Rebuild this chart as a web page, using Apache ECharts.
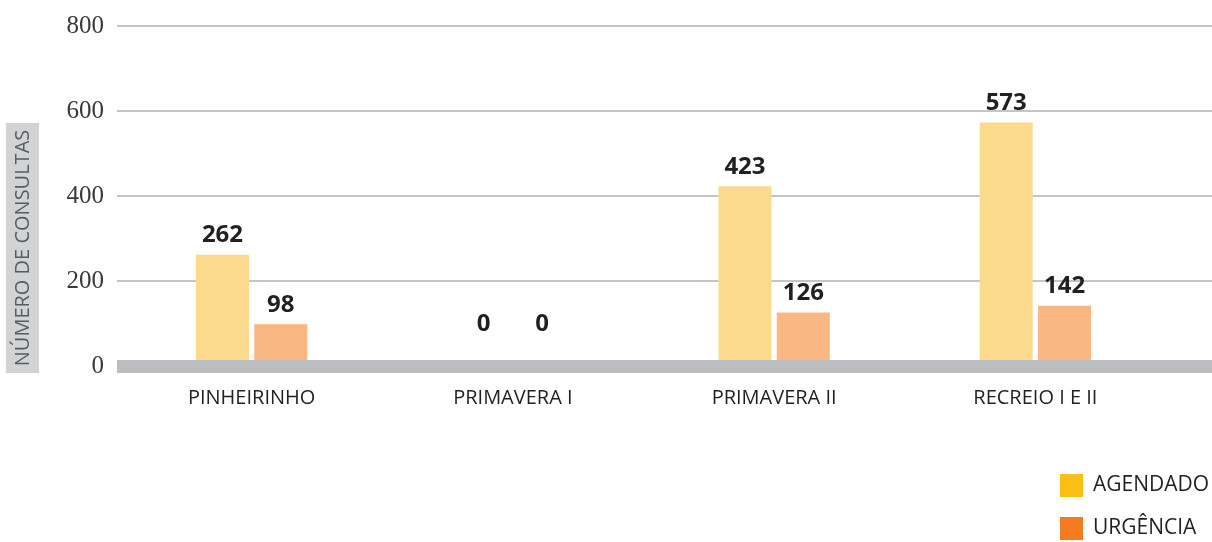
<!DOCTYPE html>
<html>
<head>
<meta charset="utf-8">
<script src="https://cdn.jsdelivr.net/npm/echarts@6/dist/echarts.min.js"></script>
<style>
  html, body { margin: 0; padding: 0; background: #fff; }
  #chart { width: 1212px; height: 542px; }
</style>
</head>
<body>
<div id="chart"></div>
<script>
// data
var categories = ['PINHEIRINHO', 'PRIMAVERA I', 'PRIMAVERA II', 'RECREIO I E II'];
var agendado = [262, 0, 423, 573];
var urgencia = [98, 0, 126, 142];
var seriesNames = ['AGENDADO', 'URGÊNCIA'];
var yTicks = [0, 200, 400, 600, 800];

var barColors = ['#FBDA8E', '#F9B784'];
var legendColors = ['#FBBE15', '#F47B20'];

function withLabels(values) {
    // zero values get their label lifted off the baseline like the original
    return values.map(function (v) {
        return v === 0 ? { value: v, label: { distance: 30 } } : v;
    });
}

var myChart = echarts.init(document.getElementById('chart'));

var gridTop = 26, gridBottom = 176;

myChart.setOption({
    animation: false,
    grid: [
        { left: 117, right: 0, top: gridTop, bottom: gridBottom },
        { left: 121, right: 46, top: gridTop, bottom: gridBottom }
    ],
    xAxis: [
        {
            gridIndex: 0, type: 'value', min: 0, max: 1, z: 3,
            axisLine: { show: true, lineStyle: { color: '#BCBDC0', width: 13, cap: 'butt' } },
            axisTick: { show: false }, axisLabel: { show: false }, splitLine: { show: false }
        },
        {
            gridIndex: 1, type: 'category', data: categories,
            axisLine: { show: false }, axisTick: { show: false },
            axisLabel: {
                margin: 22, color: '#231F20', fontSize: 20,
                fontFamily: 'Open Sans'
            }
        }
    ],
    yAxis: [
        {
            gridIndex: 0, type: 'value', min: yTicks[0], max: yTicks[yTicks.length - 1], interval: 200,
            axisLine: { show: false }, axisTick: { show: false },
            axisLabel: {
                margin: 13, color: '#3A3A3A', fontSize: 25,
                fontFamily: 'Liberation Serif'
            },
            splitLine: { lineStyle: { color: '#C4C5C7', width: 2 } }
        },
        {
            gridIndex: 1, type: 'value', min: yTicks[0], max: yTicks[yTicks.length - 1], show: false
        }
    ],
    legend: {
        orient: 'vertical',
        left: 1060, top: 474,
        padding: 0,
        itemWidth: 23, itemHeight: 23, itemGap: 20,
        icon: 'rect',
        textStyle: { fontSize: 21, color: '#231F20', fontFamily: 'Open Sans', padding: [0, 0, 0, 5] },
        data: [
            { name: seriesNames[0], itemStyle: { color: legendColors[0] } },
            { name: seriesNames[1], itemStyle: { color: legendColors[1] } }
        ]
    },
    graphic: [
        {
            type: 'rect', left: 6, top: 123,
            shape: { width: 33, height: 250 },
            style: { fill: '#D1D3D4' }
        },
        {
            type: 'text', x: 23, y: 248, rotation: Math.PI / 2,
            style: {
                text: 'NÚMERO DE CONSULTAS',
                fill: '#5A5B5D', fontSize: 20, fontFamily: 'Open Sans',
                align: 'center', verticalAlign: 'middle'
            }
        }
    ],
    series: [
        {
            name: seriesNames[0], type: 'bar', xAxisIndex: 1, yAxisIndex: 1,
            data: withLabels(agendado), barWidth: 53, barGap: '10%',
            itemStyle: { color: barColors[0] },
            label: {
                show: true, position: 'top', distance: 7,
                color: '#231F20', fontSize: 24, fontWeight: 'bold', fontFamily: 'Open Sans'
            }
        },
        {
            name: seriesNames[1], type: 'bar', xAxisIndex: 1, yAxisIndex: 1,
            data: withLabels(urgencia), barWidth: 53,
            itemStyle: { color: barColors[1] },
            label: {
                show: true, position: 'top', distance: 7,
                color: '#231F20', fontSize: 24, fontWeight: 'bold', fontFamily: 'Open Sans'
            }
        }
    ]
});
</script>
</body>
</html>
